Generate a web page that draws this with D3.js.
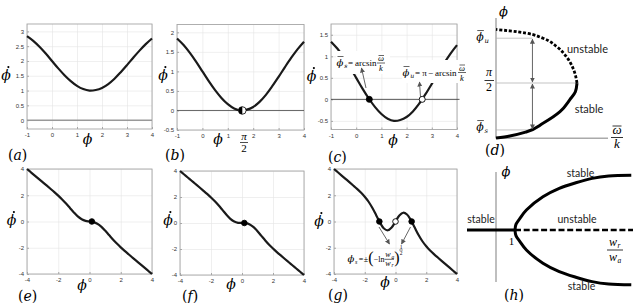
<!DOCTYPE html>
<html>
<head>
<meta charset="utf-8">
<script src="https://cdn.jsdelivr.net/npm/d3@7"></script>
<style>
  body { margin: 0; background: #fff; }
  svg { display: block; }
</style>
</head>
<body>
<svg id="fig" width="633" height="303"></svg>
<script>
// ---- data ----
const phiTop = [-1, -0.75, -0.5, -0.25, 0, 0.25, 0.5, 0.75, 1, 1.25, 1.5, 1.75, 2, 2.25, 2.5, 2.75, 3, 3.25, 3.5, 3.75, 4];
const dphiA = [2.84, 2.68, 2.48, 2.25, 2.00, 1.75, 1.52, 1.32, 1.16, 1.05, 1.00, 1.02, 1.09, 1.22, 1.40, 1.62, 1.86, 2.11, 2.35, 2.57, 2.76];
const dphiB = [1.84, 1.68, 1.48, 1.25, 1.00, 0.75, 0.52, 0.32, 0.16, 0.05, 0.00, 0.02, 0.09, 0.22, 0.40, 0.62, 0.86, 1.11, 1.35, 1.57, 1.76];
const dphiC = [1.34, 1.18, 0.98, 0.75, 0.50, 0.25, 0.02, -0.18, -0.34, -0.45, -0.50, -0.48, -0.41, -0.28, -0.10, 0.12, 0.36, 0.61, 0.85, 1.07, 1.26];

const phiBottom = [-4, -3.75, -3.5, -3.25, -3, -2.75, -2.5, -2.25, -2, -1.75, -1.5, -1.25, -1, -0.75, -0.5, -0.25, 0,
  0.25, 0.5, 0.75, 1, 1.25, 1.5, 1.75, 2, 2.25, 2.5, 2.75, 3, 3.25, 3.5, 3.75, 4];
const dphiE = [4, 3.75, 3.5, 3.25, 3.0, 2.749, 2.496, 2.238, 1.969, 1.680, 1.366, 1.027, 0.687, 0.387, 0.169, 0.050, 0,
  -0.050, -0.169, -0.387, -0.687, -1.027, -1.366, -1.680, -1.969, -2.238, -2.496, -2.749, -3.0, -3.25, -3.5, -3.75, -4];
const dphiF = [4, 3.75, 3.5, 3.25, 3.0, 2.749, 2.495, 2.236, 1.963, 1.668, 1.342, 0.988, 0.632, 0.323, 0.111, 0.015, 0,
  -0.015, -0.111, -0.323, -0.632, -0.988, -1.342, -1.668, -1.963, -2.236, -2.495, -2.749, -3.0, -3.25, -3.5, -3.75, -4];
const dphiG = [4, 3.75, 3.5, 3.25, 3.0, 2.746, 2.486, 2.207, 1.890, 1.505, 1.026, 0.464, -0.104, -0.532, -0.668, -0.454, 0,
  0.454, 0.668, 0.532, 0.104, -0.464, -1.026, -1.505, -1.890, -2.207, -2.486, -2.746, -3.0, -3.25, -3.5, -3.75, -4];

const xTicksTop = [-1, 0, 1, 2, 3, 4];
const yTicksA = [0, 0.5, 1, 1.5, 2, 2.5, 3];
const yTicksB = [-0.5, 0, 0.5, 1, 1.5, 2];
const yTicksC = [-0.5, 0, 0.5, 1, 1.5];
const ticksBottom = [-4, -2, 0, 2, 4];

const eqB = [1.5708];            // half-stable point
const eqC = [0.52, 2.62];        // stable, unstable
const eqCfill = ['#000', '#fff'];
const eqEF = [0.15];
const eqG = [-1.05, 0, 1.05];
const eqGfill = ['#000', '#fff', '#000'];

// (d) bifurcation: ratio w/k vs phi
const ratioStable = [0, 0.17, 0.38, 0.58, 0.79, 0.91, 0.98, 1.0];
const phiStable = [0, 0.06, 0.18, 0.42, 0.75, 1.09, 1.32, 1.57];
const ratioUnstable = [1.0, 0.96, 0.87, 0.75, 0.58, 0.38, 0.17, 0];
const phiUnstable = [1.57, 1.94, 2.32, 2.61, 2.85, 2.99, 3.06, 3.1];
const phiBarU = 2.85, phiBarS = 0.23, phiHalf = 1.5708, ratioArrow = 0.45;

// (h) pitchfork: ratio w_r/w_a vs phi
const ratioH = [1, 1.05, 1.26, 1.6, 2.47, 3.33, 4.2, 5.06, 5.93, 7.12];
const phiH = [0, 0.14, 0.29, 0.5, 0.83, 1.04, 1.18, 1.29, 1.35, 1.37];

// ---- drawing ----
const svg = d3.select('#fig');
const serif = '"DejaVu Serif", serif';
const times = '"Liberation Serif", serif';
const sans = '"Liberation Sans", Arial, sans-serif';
const label = 'Lato, "Open Sans", sans-serif';

const defs = svg.append('defs');
defs.append('marker').attr('id', 'ah').attr('viewBox', '0 0 10 10')
  .attr('refX', 9).attr('refY', 5).attr('markerWidth', 5).attr('markerHeight', 5)
  .attr('markerUnits', 'userSpaceOnUse').attr('orient', 'auto-start-reverse')
  .append('path').attr('d', 'M0,0L10,5L0,10z').attr('fill', '#555');

function txt(g, x, y, s, o = {}) {
  return g.append('text').attr('x', x).attr('y', y).text(s)
    .attr('font-family', o.family || serif)
    .attr('font-size', o.size || 14)
    .attr('font-style', o.italic === false ? 'normal' : 'italic')
    .attr('text-anchor', o.anchor || 'middle')
    .attr('fill', o.fill || '#000');
}

function hline(g, x1, x2, y, w, c) {
  g.append('line').attr('x1', x1).attr('x2', x2).attr('y1', y).attr('y2', y)
    .attr('stroke', c || '#000').attr('stroke-width', w || 0.8);
}

function phiDot(g, x, y, size) {
  txt(g, x, y, 'ϕ', {size: size});
  g.append('circle').attr('cx', x + size * 0.17).attr('cy', y - size * 0.92).attr('r', size * 0.075).attr('fill', '#000');
}

function phiBar(g, x, y, size, sub) {
  txt(g, x, y, 'ϕ', {size: size});
  hline(g, x - size * 0.25, x + size * 0.35, y - size * 0.95, size * 0.06);
  txt(g, x + size * 0.42, y + size * 0.22, sub, {size: size * 0.62, anchor: 'start'});
}

function panelLabel(x, y, letter) {
  const t = svg.append('text').attr('x', x).attr('y', y).attr('font-family', serif).attr('font-size', 14);
  t.append('tspan').text('(');
  t.append('tspan').attr('font-style', 'italic').text(letter);
  t.append('tspan').text(')');
}

function panel(p) {
  const x = d3.scaleLinear().domain(p.xDomain).range([p.left, p.right]);
  const y = d3.scaleLinear().domain(p.yDomain).range([p.bottom, p.top]);
  const w = p.right - p.left, h = p.bottom - p.top;
  const g = svg.append('g');

  g.append('g').attr('transform', `translate(0,${p.bottom})`)
    .call(d3.axisBottom(x).tickValues(p.xTicks).tickSize(-h).tickFormat(''))
    .call(s => s.select('.domain').remove())
    .call(s => s.selectAll('line').attr('stroke', '#e4e4e4').attr('stroke-width', 0.6));
  g.append('g').attr('transform', `translate(${p.left},0)`)
    .call(d3.axisLeft(y).tickValues(p.yTicks).tickSize(-w).tickFormat(''))
    .call(s => s.select('.domain').remove())
    .call(s => s.selectAll('line').attr('stroke', '#e4e4e4').attr('stroke-width', 0.6));

  g.append('rect').attr('x', p.left).attr('y', p.top).attr('width', w).attr('height', h)
    .attr('fill', 'none').attr('stroke', '#a6a6a6').attr('stroke-width', 0.9);

  const styleAxis = s => {
    s.select('.domain').remove();
    s.attr('font-family', sans).attr('font-size', 6).attr('color', '#333');
    s.selectAll('line').attr('stroke', '#a6a6a6');
  };
  g.append('g').attr('transform', `translate(0,${p.bottom})`)
    .call(d3.axisBottom(x).tickValues(p.xTicks).tickSize(-2).tickPadding(4).tickFormat(d => String(d)))
    .call(styleAxis);
  g.append('g').attr('transform', `translate(${p.left},0)`)
    .call(d3.axisLeft(y).tickValues(p.yTicks).tickSize(-2).tickPadding(3).tickFormat(d => String(d)))
    .call(styleAxis);
  return {g, x, y};
}

function curve(P, xs, ys) {
  const line = d3.line().x(i => P.x(xs[i])).y(i => P.y(ys[i])).curve(d3.curveCatmullRom);
  P.g.append('path').attr('d', line(d3.range(xs.length)))
    .attr('fill', 'none').attr('stroke', '#1a1a1a').attr('stroke-width', 2.2);
}

function zeroLine(P, x0, x1, color, width) {
  P.g.append('line').attr('x1', P.x(x0)).attr('x2', P.x(x1)).attr('y1', P.y(0)).attr('y2', P.y(0))
    .attr('stroke', color).attr('stroke-width', width);
}

function dots(P, xs, fills, r) {
  P.g.selectAll(null).data(xs).enter().append('circle')
    .attr('cx', d => P.x(d)).attr('cy', P.y(0)).attr('r', r)
    .attr('fill', (d, i) => fills[i]).attr('stroke', '#000').attr('stroke-width', 0.9);
}

function arrow(g, x1, y1, x2, y2, both) {
  const l = g.append('line').attr('x1', x1).attr('y1', y1).attr('x2', x2).attr('y2', y2)
    .attr('stroke', '#555').attr('stroke-width', 0.9).attr('marker-end', 'url(#ah)');
  if (both) l.attr('marker-start', 'url(#ah)');
}

// (a)
const A = panel({left: 27, right: 152, top: 24, bottom: 129, xDomain: [-1, 4], yDomain: [-0.3, 3.25], xTicks: xTicksTop, yTicks: yTicksA});
zeroLine(A, -1, 4, '#999', 1.5);
curve(A, phiTop, dphiA);
phiDot(svg, 6, 80, 14);
txt(svg, 87.5, 144, 'ϕ', {size: 14});
panelLabel(8, 160, 'a');

// (b)
const B = panel({left: 177, right: 304, top: 24.5, bottom: 130, xDomain: [-1, 4], yDomain: [-0.5, 2.2], xTicks: xTicksTop, yTicks: yTicksB});
zeroLine(B, -1, 4, '#555', 0.9);
curve(B, phiTop, dphiB);
B.g.selectAll(null).data(eqB).enter().append('circle')
  .attr('cx', d => B.x(d)).attr('cy', B.y(0)).attr('r', 3.8)
  .attr('fill', '#fff').attr('stroke', '#000').attr('stroke-width', 0.8);
B.g.selectAll(null).data(eqB).enter().append('path')
  .attr('transform', d => `translate(${B.x(d)},${B.y(0)})`)
  .attr('d', d3.arc()({innerRadius: 0, outerRadius: 3.8, startAngle: Math.PI, endAngle: 2 * Math.PI}))
  .attr('fill', '#000');
phiDot(svg, 163, 80, 14);
txt(svg, 218, 144, 'ϕ', {size: 14});
txt(svg, 244, 140, 'π', {size: 11, family: times});
hline(svg, 240, 248, 142.5, 0.7);
txt(svg, 244, 152, '2', {size: 11, family: times, italic: false});
panelLabel(165, 160, 'b');

// (c)
const C = panel({left: 331, right: 457, top: 24, bottom: 129.5, xDomain: [-1, 4], yDomain: [-0.7, 1.75], xTicks: xTicksTop, yTicks: yTicksC});
zeroLine(C, -1, 4.1, '#444', 0.9);
curve(C, phiTop, dphiC);
// annotation boxes hide the curve underneath
C.g.append('rect').attr('x', 336).attr('y', 51).attr('width', 54).attr('height', 23).attr('fill', '#fff');
C.g.append('rect').attr('x', 402).attr('y', 60).attr('width', 67).attr('height', 23).attr('fill', '#fff');
phiBar(C.g, 340, 66, 10, 's');
txt(C.g, 350.5, 66, '=', {size: 9, family: times, italic: false});
txt(C.g, 355, 66, 'arcsin', {size: 9, family: times, italic: false, anchor: 'start'});
txt(C.g, 381, 61, 'ω', {size: 8.5, family: times});
hline(C.g, 378.5, 384, 55.5, 0.6);
hline(C.g, 377, 385, 63, 0.6);
txt(C.g, 381, 71, 'k', {size: 8.5, family: times});
phiBar(C.g, 406, 76, 10, 'u');
txt(C.g, 417.5, 76, '=', {size: 9, family: times, italic: false});
txt(C.g, 424.5, 76, 'π', {size: 9, family: times, italic: false});
txt(C.g, 430.5, 76, '−', {size: 9, family: times, italic: false});
txt(C.g, 435, 76, 'arcsin', {size: 9, family: times, italic: false, anchor: 'start'});
txt(C.g, 462, 70.5, 'ω', {size: 8.5, family: times});
hline(C.g, 459.5, 465, 65, 0.6);
hline(C.g, 458, 466, 72.5, 0.6);
txt(C.g, 462, 80.5, 'k', {size: 8.5, family: times});
arrow(C.g, 366, 88, 361.5, 68);
arrow(C.g, 420.5, 97, 419.5, 82);
dots(C, eqC, eqCfill, 3);
phiDot(svg, 311.5, 81, 14);
txt(svg, 393, 145, 'ϕ', {size: 14});
panelLabel(328, 162, 'c');

// (d)
const dG = svg.append('g');
const xD = d3.scaleLinear().domain([0, 1]).range([496, 577]);
const yD = d3.scaleLinear().domain([0, phiHalf]).range([138, 83]);
dG.append('line').attr('x1', xD(0)).attr('x2', xD(0)).attr('y1', 18).attr('y2', 138.5).attr('stroke', '#aaa').attr('stroke-width', 1.5);
dG.append('line').attr('x1', xD(0)).attr('x2', 608).attr('y1', 138.3).attr('y2', 138.3).attr('stroke', '#aaa').attr('stroke-width', 1.5);
hline(dG, xD(0), xD(ratioArrow), yD(phiBarU), 0.7, '#aaa');
hline(dG, xD(0), xD(1), yD(phiHalf), 0.7, '#aaa');
hline(dG, xD(0), xD(ratioArrow), yD(phiBarS), 0.7, '#aaa');
const lineD = d3.line().curve(d3.curveMonotoneY);
dG.append('path').attr('d', lineD(ratioStable.map((r, i) => [xD(r), yD(phiStable[i])])))
  .attr('fill', 'none').attr('stroke', '#000').attr('stroke-width', 3);
dG.append('path').attr('d', lineD(ratioUnstable.map((r, i) => [xD(r), yD(phiUnstable[i])])))
  .attr('fill', 'none').attr('stroke', '#000').attr('stroke-width', 2.8).attr('stroke-dasharray', '3,1.8');
arrow(dG, xD(ratioArrow), yD(phiHalf) - 1, xD(ratioArrow), yD(phiBarU) + 1, true);
arrow(dG, xD(ratioArrow), yD(phiHalf) + 1, xD(ratioArrow), yD(phiBarS) - 1, true);
txt(dG, 503.5, 16, 'ϕ', {size: 13});
phiBar(dG, 480, 41, 11, 'u');
txt(dG, 489, 75.5, 'π', {size: 12, family: times});
hline(dG, 484.5, 494, 80.5, 0.8);
txt(dG, 489, 91, '2', {size: 12, family: times, italic: false});
phiBar(dG, 480, 131, 11, 's');
txt(dG, 617, 134, 'ω', {size: 13, family: times});
hline(dG, 612.5, 621.5, 126, 0.8);
hline(dG, 611, 623, 137.5, 0.8);
txt(dG, 617, 148, 'k', {size: 13, family: times});
txt(dG, 587.5, 53, 'unstable', {size: 11, family: label, italic: false, fill: '#222'});
txt(dG, 589, 113, 'stable', {size: 11, family: label, italic: false, fill: '#222'});
panelLabel(485, 155, 'd');

// (e)
const E = panel({left: 27, right: 152, top: 169, bottom: 274, xDomain: [-4, 4], yDomain: [-4, 4], xTicks: ticksBottom, yTicks: ticksBottom});
curve(E, phiBottom, dphiE);
dots(E, eqEF, ['#000'], 2.8);
phiDot(svg, 11.5, 225, 14);
txt(svg, 82, 290, 'ϕ', {size: 14});
panelLabel(18, 301, 'e');

// (f)
const F = panel({left: 180, right: 304, top: 171, bottom: 275, xDomain: [-4, 4], yDomain: [-4, 4], xTicks: ticksBottom, yTicks: ticksBottom});
curve(F, phiBottom, dphiF);
dots(F, eqEF, ['#000'], 2.8);
phiDot(svg, 168, 225, 14);
txt(svg, 231, 289, 'ϕ', {size: 14});
panelLabel(182, 301, 'f');

// (g)
const G = panel({left: 334, right: 457, top: 169, bottom: 274, xDomain: [-4, 4], yDomain: [-4, 4], xTicks: ticksBottom, yTicks: ticksBottom});
curve(G, phiBottom, dphiG);
dots(G, eqG, eqGfill, 2.8);
arrow(G.g, 379, 227, 389.5, 244);
arrow(G.g, 410.5, 227, 401.5, 244);
txt(G.g, 351, 262, 'ϕ', {size: 10});
txt(G.g, 355, 264, 's', {size: 6, family: times, anchor: 'start'});
txt(G.g, 361, 261.5, '=', {size: 8, family: times, italic: false});
txt(G.g, 366, 261.5, '±', {size: 8, family: times, italic: false});
txt(G.g, 370.8, 263, '(', {size: 16, family: times, italic: false});
txt(G.g, 373.8, 261.5, '−ln', {size: 8, family: times, italic: false, anchor: 'start'});
txt(G.g, 388, 257, 'w', {size: 8, family: times});
txt(G.g, 391.5, 258.5, 'a', {size: 5.5, family: times, anchor: 'start'});
hline(G.g, 384.5, 394, 259.3, 0.6);
txt(G.g, 388, 265.5, 'w', {size: 8, family: times});
txt(G.g, 391.5, 267, 'r', {size: 5.5, family: times, anchor: 'start'});
txt(G.g, 396.8, 263, ')', {size: 16, family: times, italic: false});
txt(G.g, 401, 248.5, '1', {size: 5.5, family: times, italic: false});
hline(G.g, 399.2, 402.8, 250, 0.5);
txt(G.g, 401, 255, '2', {size: 5.5, family: times, italic: false});
phiDot(svg, 319, 226, 14);
txt(svg, 385, 287, 'ϕ', {size: 14});
panelLabel(328, 300, 'g');

// (h)
const hG = svg.append('g');
const xH = d3.scaleLinear().domain([0, 1]).range([496, 515]);
const yH = d3.scaleLinear().domain([0, 1]).range([230, 190]);
hG.append('line').attr('x1', xH(0)).attr('x2', xH(0)).attr('y1', 172).attr('y2', 282).attr('stroke', '#aaa').attr('stroke-width', 1.5);
hG.append('line').attr('x1', 467).attr('x2', xH(1)).attr('y1', yH(0)).attr('y2', yH(0)).attr('stroke', '#000').attr('stroke-width', 3);
hG.append('line').attr('x1', xH(1)).attr('x2', 633).attr('y1', yH(0)).attr('y2', yH(0))
  .attr('stroke', '#000').attr('stroke-width', 2.6).attr('stroke-dasharray', '6,2.7');
const lineH = d3.line().curve(d3.curveCatmullRom);
hG.append('path').attr('d', lineH(ratioH.map((r, i) => [xH(r), yH(phiH[i])])))
  .attr('fill', 'none').attr('stroke', '#000').attr('stroke-width', 3);
hG.append('path').attr('d', lineH(ratioH.map((r, i) => [xH(r), yH(-phiH[i])])))
  .attr('fill', 'none').attr('stroke', '#000').attr('stroke-width', 3);
txt(hG, 506, 176, 'ϕ', {size: 13});
txt(hG, 511.5, 245, '1', {size: 11, family: times, italic: false});
txt(hG, 613, 246, 'w', {size: 12, family: times});
txt(hG, 617.5, 248, 'r', {size: 7.5, family: times, anchor: 'start'});
hline(hG, 607, 623, 250, 0.8);
txt(hG, 613, 261, 'w', {size: 12, family: times});
txt(hG, 617.5, 263, 'a', {size: 7.5, family: times, anchor: 'start'});
txt(hG, 481, 223, 'stable', {size: 10.5, family: label, italic: false, fill: '#222'});
txt(hG, 577, 223, 'unstable', {size: 10.5, family: label, italic: false, fill: '#222'});
txt(hG, 580.5, 177, 'stable', {size: 10.5, family: label, italic: false, fill: '#222'});
txt(hG, 581.5, 290, 'stable', {size: 10.5, family: label, italic: false, fill: '#222'});
panelLabel(504, 300, 'h');
</script>
</body>
</html>
